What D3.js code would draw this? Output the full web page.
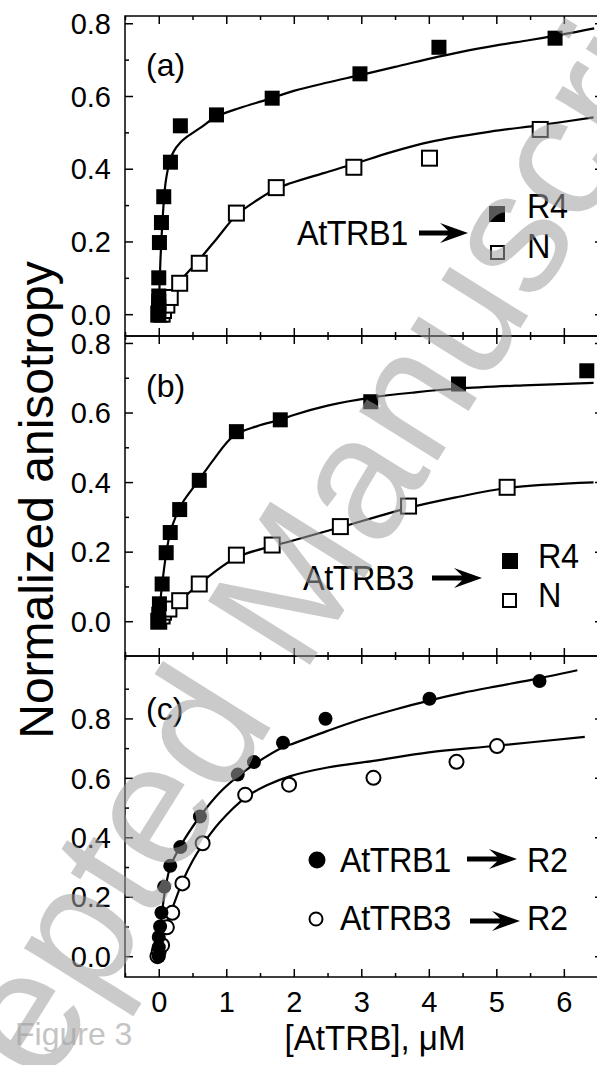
<!DOCTYPE html>
<html>
<head>
<meta charset="utf-8">
<script src="https://cdn.jsdelivr.net/npm/d3@7"></script>
<style>
  html, body { margin: 0; padding: 0; background: #fff; }
  svg { display: block; font-family: "Liberation Sans", Arial, sans-serif; }
</style>
</head>
<body>
<svg id="chart" width="597" height="1065"></svg>
<script>
// ---- data ----
const xMajorTicks = [0, 1, 2, 3, 4, 5, 6];
const xMinorTicks = [-0.5, 0.5, 1.5, 2.5, 3.5, 4.5, 5.5, 6.5];
const yMajorTicks = [0.0, 0.2, 0.4, 0.6, 0.8];
const yMinorTicks = [0.1, 0.3, 0.5, 0.7];
const yMinorTicksC = [0.1, 0.3, 0.5, 0.7, 0.9];
const panelLabels = ["(a)", "(b)", "(c)"];

// (a) AtTRB1
const aR4 = [[0,0],[0,0.01],[0,0.02],[0,0.035],[0,0.05],[0,0.10],[0.01,0.197],[0.04,0.252],
  [0.074,0.323],[0.173,0.418],[0.32,0.518],[0.855,0.548],[1.68,0.594],[2.98,0.661],[4.15,0.734],[5.87,0.759]];
const aN = [[0,0],[0.05,0.0],[0.07,0.01],[0.12,0.025],[0.17,0.046],[0.31,0.085],[0.6,0.14],
  [1.15,0.278],[1.74,0.348],[2.89,0.404],[4.01,0.429],[5.65,0.508]];
const aR4Fit = [[0,0],[0.01,0.07],[0.025,0.15],[0.05,0.24],[0.075,0.31],[0.1,0.36],[0.15,0.41],
  [0.22,0.447],[0.32,0.472],[0.42,0.488],[0.62,0.513],[0.85,0.543],[1.2,0.567],[1.6,0.59],
  [2.0,0.614],[2.5,0.637],[3.0,0.658],[3.5,0.68],[4.0,0.702],[4.5,0.722],[5.0,0.739],
  [5.5,0.754],[6.0,0.77],[6.45,0.786]];
const aNFit = [[0.07,0.035],[0.31,0.09],[0.6,0.15],[0.865,0.209],[1.15,0.272],[1.46,0.314],
  [1.74,0.345],[1.95,0.36],[2.44,0.388],[2.89,0.413],[3.43,0.445],[4.02,0.474],[4.91,0.502],
  [5.65,0.52],[6.44,0.541]];

// (b) AtTRB3
const bR4 = [[0,0],[0,0.02],[0.01,0.05],[0.05,0.107],[0.11,0.197],[0.17,0.255],[0.31,0.321],
  [0.6,0.405],[1.15,0.545],[1.8,0.579],[3.14,0.631],[4.44,0.682],[6.34,0.72]];
const bN = [[0,0],[0.05,0.015],[0.07,0.026],[0.15,0.035],[0.31,0.059],[0.6,0.107],[1.15,0.19],
  [1.68,0.219],[2.69,0.272],[3.7,0.331],[5.16,0.385]];
const bR4Fit = [[0,0],[0.02,0.05],[0.05,0.105],[0.11,0.195],[0.17,0.255],[0.25,0.3],[0.35,0.34],
  [0.6,0.407],[0.81,0.464],[1.11,0.533],[1.46,0.561],[1.8,0.579],[2.0,0.593],[2.5,0.62],
  [3.14,0.643],[3.8,0.658],[4.44,0.669],[5.4,0.678],[6.44,0.685]];
const bNFit = [[0.1,0.03],[0.15,0.04],[0.31,0.059],[0.6,0.107],[1.15,0.183],[1.68,0.216],
  [1.95,0.23],[2.69,0.27],[3.7,0.326],[4.4,0.356],[5.16,0.383],[6.44,0.399]];

// (c) R2
const cB1 = [[0,0],[0,0.03],[0,0.065],[0.02,0.1],[0.04,0.146],[0.08,0.234],[0.17,0.304],
  [0.32,0.367],[0.61,0.47],[1.17,0.611],[1.41,0.653],[1.84,0.718],[2.47,0.799],[4.01,0.866],[5.64,0.926]];
const cB3 = [[-0.02,0],[0,0.017],[0.05,0.037],[0.12,0.097],[0.2,0.146],[0.35,0.245],[0.65,0.38],
  [1.28,0.543],[1.93,0.577],[3.18,0.6],[4.41,0.654],[5.01,0.707]];
const cB1Fit = [[0,0],[0.02,0.07],[0.05,0.15],[0.1,0.23],[0.17,0.3],[0.32,0.37],[0.61,0.47],
  [0.9,0.55],[1.17,0.605],[1.41,0.645],[1.84,0.703],[2.0,0.716],[2.5,0.758],[3.0,0.797],
  [3.5,0.83],[4.0,0.86],[4.5,0.886],[5.0,0.908],[5.5,0.929],[6.2,0.962]];
const cB3Fit = [[0,0],[0.03,0.03],[0.07,0.07],[0.12,0.11],[0.2,0.16],[0.35,0.25],[0.5,0.32],
  [0.65,0.375],[0.9,0.45],[1.28,0.533],[1.6,0.575],[1.95,0.606],[2.5,0.635],[3.18,0.657],
  [4.0,0.686],[5.0,0.708],[6.31,0.738]];

// ---- layout ----
const svg = d3.select("#chart");
const left = 125, right = 603;
const font = '"Liberation Sans", Arial, sans-serif';

const x = d3.scaleLinear().domain([-0.5, 6.58]).range([left, right]);

const panels = [
  { top: 16,  bottom: 336, domain: [-0.06, 0.82], minor: yMinorTicks },
  { top: 336, bottom: 656, domain: [-0.10, 0.82], minor: yMinorTicks },
  { top: 656, bottom: 977, domain: [-0.07, 1.01], minor: yMinorTicksC }
];
panels.forEach(p => {
  p.y = d3.scaleLinear().domain(p.domain).range([p.bottom, p.top]);
});

const line = y => d3.line().x(d => x(d[0])).y(d => y(d[1])).curve(d3.curveCatmullRom.alpha(0.5));

// axes helper: inward ticks on all four sides
function drawAxes(p, i) {
  const g = svg.append("g");
  const addAxis = (axis, tr) => {
    const a = g.append("g").attr("transform", tr).call(axis);
    a.select(".domain").remove();
    a.selectAll("line").attr("stroke", "#000").attr("stroke-width", 1.5);
    return a;
  };
  // left major with labels
  const yl = addAxis(d3.axisLeft(p.y).tickValues(yMajorTicks).tickSize(-8).tickPadding(14)
    .tickFormat(d3.format(".1f")), `translate(${left},0)`);
  yl.selectAll("text").attr("font-family", font).attr("font-size", 29).attr("fill", "#000")
    .attr("dy", "0.35em");
  addAxis(d3.axisLeft(p.y).tickValues(p.minor).tickSize(-4).tickFormat(""), `translate(${left},0)`);
  addAxis(d3.axisRight(p.y).tickValues(yMajorTicks).tickSize(-8).tickFormat(""), `translate(${right},0)`);
  addAxis(d3.axisRight(p.y).tickValues(p.minor).tickSize(-4).tickFormat(""), `translate(${right},0)`);
  // top & bottom
  addAxis(d3.axisTop(x).tickValues(xMajorTicks).tickSize(-8).tickFormat(""), `translate(0,${p.top})`);
  addAxis(d3.axisTop(x).tickValues(xMinorTicks).tickSize(-4).tickFormat(""), `translate(0,${p.top})`);
  const xb = addAxis(d3.axisBottom(x).tickValues(xMajorTicks).tickSize(-8).tickPadding(14)
    .tickFormat(i === 2 ? d3.format("d") : ""), `translate(0,${p.bottom})`);
  xb.selectAll("text").attr("font-family", font).attr("font-size", 29).attr("fill", "#000");
  addAxis(d3.axisBottom(x).tickValues(xMinorTicks).tickSize(-4).tickFormat(""), `translate(0,${p.bottom})`);
  // frame
  g.append("rect").attr("x", left).attr("y", p.top).attr("width", right - left)
    .attr("height", p.bottom - p.top).attr("fill", "none").attr("stroke", "#000").attr("stroke-width", 1.5);
  // panel label
  svg.append("text").attr("x", 146).attr("y", [76, 397, 720][i]).attr("font-family", font)
    .attr("font-size", 32).text(panelLabels[i]);
}

function squares(data, y, filled, size = 15) {
  svg.append("g").selectAll("rect").data(data).join("rect")
    .attr("x", d => x(d[0]) - size / 2).attr("y", d => y(d[1]) - size / 2)
    .attr("width", size).attr("height", size)
    .attr("fill", filled ? "#000" : "#fff").attr("stroke", "#000").attr("stroke-width", filled ? 0 : 2);
}
function circles(data, y, filled, r = 7) {
  svg.append("g").selectAll("circle").data(data).join("circle")
    .attr("cx", d => x(d[0])).attr("cy", d => y(d[1])).attr("r", r)
    .attr("fill", filled ? "#000" : "#fff").attr("stroke", "#000").attr("stroke-width", filled ? 0 : 2);
}
function fit(data, y) {
  svg.append("path").datum(data).attr("d", line(y)).attr("fill", "none")
    .attr("stroke", "#000").attr("stroke-width", 2.2);
}
// arrow: shaft + swept head, from x0 to x1 at height yc
function arrow(x0, x1, yc) {
  const head = 28, hw = 10, sh = 2.6;
  svg.append("path").attr("fill", "#000").attr("d",
    `M${x0},${yc - sh} L${x1 - head + 8},${yc - sh} L${x1 - head},${yc - hw} L${x1},${yc}
     L${x1 - head},${yc + hw} L${x1 - head + 8},${yc + sh} L${x0},${yc + sh} Z`);
}
// legend text: Arial-like but a bit condensed, as in the figure
function legendText(tx, ty, t) {
  svg.append("text").attr("transform", `translate(${tx},${ty}) scale(0.9,1)`)
    .attr("font-family", font).attr("font-size", 36).attr("letter-spacing", -0.5).text(t);
}

panels.forEach(drawAxes);

const [pa, pb, pc] = panels;

// panel (a)
fit(aR4Fit, pa.y); fit(aNFit, pa.y);
squares(aN, pa.y, false); squares(aR4, pa.y, true);
legendText(297, 245, "AtTRB1"); arrow(419, 468, 233);
svg.append("rect").attr("x", 489).attr("y", 206).attr("width", 16).attr("height", 16).attr("fill", "#000");
svg.append("rect").attr("x", 491).attr("y", 246).attr("width", 13).attr("height", 13)
  .attr("fill", "#fff").attr("stroke", "#000").attr("stroke-width", 2);
legendText(527, 218, "R4"); legendText(527, 258, "N");

// panel (b)
fit(bR4Fit, pb.y); fit(bNFit, pb.y);
squares(bN, pb.y, false); squares(bR4, pb.y, true);
legendText(303, 590, "AtTRB3"); arrow(432, 482, 578);
svg.append("rect").attr("x", 502).attr("y", 553).attr("width", 16).attr("height", 16).attr("fill", "#000");
svg.append("rect").attr("x", 503).attr("y", 594).attr("width", 13).attr("height", 13)
  .attr("fill", "#fff").attr("stroke", "#000").attr("stroke-width", 2);
legendText(538, 568, "R4"); legendText(538, 607, "N");

// panel (c)
fit(cB1Fit, pc.y); fit(cB3Fit, pc.y);
circles(cB3, pc.y, false); circles(cB1, pc.y, true);
svg.append("circle").attr("cx", 317).attr("cy", 860).attr("r", 8.5).attr("fill", "#000");
svg.append("circle").attr("cx", 316).attr("cy", 919).attr("r", 6.5).attr("fill", "#fff")
  .attr("stroke", "#000").attr("stroke-width", 2);
legendText(340, 872, "AtTRB1"); arrow(467, 517, 859); legendText(527, 872, "R2");
legendText(340, 930, "AtTRB3"); arrow(470, 520, 921); legendText(527, 930, "R2");

// axis titles
svg.append("text").attr("transform", "translate(53,500) rotate(-90)").attr("text-anchor", "middle")
  .attr("font-family", font).attr("font-size", 48).text("Normalized anisotropy");
svg.append("text").attr("transform", "translate(375,1050) scale(0.92,1)").attr("text-anchor", "middle")
  .attr("font-family", font).attr("font-size", 36).text("[AtTRB], \u03bcM");
svg.append("text").attr("x", 15).attr("y", 1045).attr("font-family", font)
  .attr("font-size", 32).attr("fill", "#c4c4c4").text("Figure 3");

// watermark
svg.append("text").attr("transform", "translate(-110,1337) rotate(-58)")
  .attr("font-family", font).attr("font-size", 175).attr("fill", "#a0a0a0").attr("opacity", 0.55)
  .text("Accepted Manuscript");
</script>
</body>
</html>
